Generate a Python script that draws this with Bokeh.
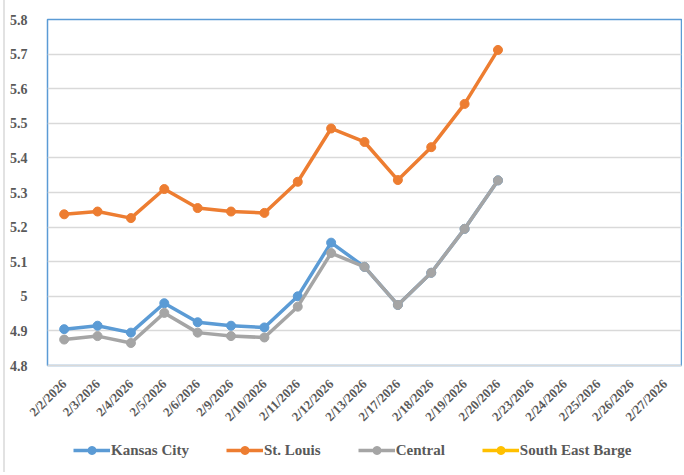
import math
from bokeh.plotting import figure
from bokeh.layouts import column
from bokeh.models import ColumnDataSource, FactorRange, Range1d, Legend, LegendItem, FixedTicker
from bokeh.embed import file_html
from bokeh.resources import INLINE

dates = ["2/2/2026", "2/3/2026", "2/4/2026", "2/5/2026", "2/6/2026", "2/9/2026",
         "2/10/2026", "2/11/2026", "2/12/2026", "2/13/2026", "2/17/2026", "2/18/2026",
         "2/19/2026", "2/20/2026", "2/23/2026", "2/24/2026", "2/25/2026", "2/26/2026",
         "2/27/2026"]
kansas_city = [4.905, 4.915, 4.895, 4.980, 4.925, 4.915, 4.910, 5.000, 5.155, 5.085,
               4.975, 5.068, 5.195, 5.335]
st_louis = [5.237, 5.245, 5.226, 5.310, 5.255, 5.245, 5.241, 5.331, 5.485, 5.446,
            5.336, 5.431, 5.556, 5.712]
central = [4.875, 4.885, 4.865, 4.952, 4.895, 4.885, 4.881, 4.970, 5.125, 5.085,
           4.975, 5.068, 5.195, 5.335]
south_east_barge = []
y_ticks = [4.8, 4.9, 5.0, 5.1, 5.2, 5.3, 5.4, 5.5, 5.6, 5.7, 5.8]
y_tick_labels = ["4.8", "4.9", "5", "5.1", "5.2", "5.3", "5.4", "5.5", "5.6", "5.7", "5.8"]

FONT = "Liberation Serif"
TXT = "#595959"

p = figure(width=677, height=432, x_range=FactorRange(factors=dates, range_padding=0),
           y_range=Range1d(4.8, 5.8), output_backend="svg", toolbar_location=None,
           min_border_left=42, min_border_top=19, min_border_right=1, min_border_bottom=66)
p.outline_line_color = "#5B9BD5"
p.outline_line_width = 1.5

p.xgrid.grid_line_color = None
p.ygrid.grid_line_color = "#D9D9D9"
p.ygrid.grid_line_width = 1.5
p.yaxis.ticker = FixedTicker(ticks=y_ticks)
p.yaxis.major_label_overrides = {t: l for t, l in zip(y_ticks, y_tick_labels)}
p.yaxis.axis_line_color = None
p.yaxis.major_tick_line_color = None
p.yaxis.minor_tick_line_color = None
p.xaxis.axis_line_color = "#D9D9D9"
p.xaxis.axis_line_width = 1.5
p.xaxis.major_tick_line_color = None
p.xaxis.minor_tick_line_color = None
p.xaxis.major_label_orientation = math.pi / 4
for ax in (p.xaxis, p.yaxis):
    ax.major_label_text_font = FONT
    ax.major_label_text_font_style = "bold"
    ax.major_label_text_color = TXT
p.yaxis.major_label_text_font_size = "14px"
p.xaxis.major_label_text_font_size = "13px"
p.yaxis.major_label_standoff = 14
p.xaxis.major_label_standoff = 10

# legend-only strip below the chart (its y range lies outside the data, so only the legend shows)
lg = figure(width=677, height=40, x_range=p.x_range, y_range=Range1d(0, 1),
            output_backend="svg", toolbar_location=None,
            min_border_left=0, min_border_right=0, min_border_top=0, min_border_bottom=0)
lg.axis.visible = False
lg.grid.visible = False
lg.outline_line_color = None

series = [("Kansas City", kansas_city, "#5B9BD5"),
          ("St. Louis", st_louis, "#ED7D31"),
          ("Central", central, "#A5A5A5"),
          ("South East Barge", south_east_barge, "#FFC000")]
items = []
for name, vals, color in series:
    ys = list(vals) + [float("nan")] * (len(dates) - len(vals))
    src = ColumnDataSource(dict(x=dates, y=ys))
    p.line("x", "y", source=src, line_color=color, line_width=3.5)
    p.scatter("x", "y", source=src, size=9, fill_color=color, line_color=color)
    l = lg.line("x", "y", source=src, line_color=color, line_width=3.5)
    s = lg.scatter("x", "y", source=src, size=9, fill_color=color, line_color=color)
    items.append(LegendItem(label=name, renderers=[l, s]))

legend = Legend(items=items, orientation="horizontal", location=(26, 12),
                label_text_font=FONT, label_text_font_style="bold", label_text_color=TXT,
                label_text_font_size="15px", glyph_width=37, label_standoff=1, spacing=37,
                border_line_color=None, background_fill_alpha=0, padding=4, margin=0)
lg.add_layout(legend)

layout = column(p, lg, spacing=0)
layout.styles = {"border-left": "2px solid #e2e2e2", "margin-left": "3px"}
open("out.html", "w").write(file_html(layout, INLINE))
